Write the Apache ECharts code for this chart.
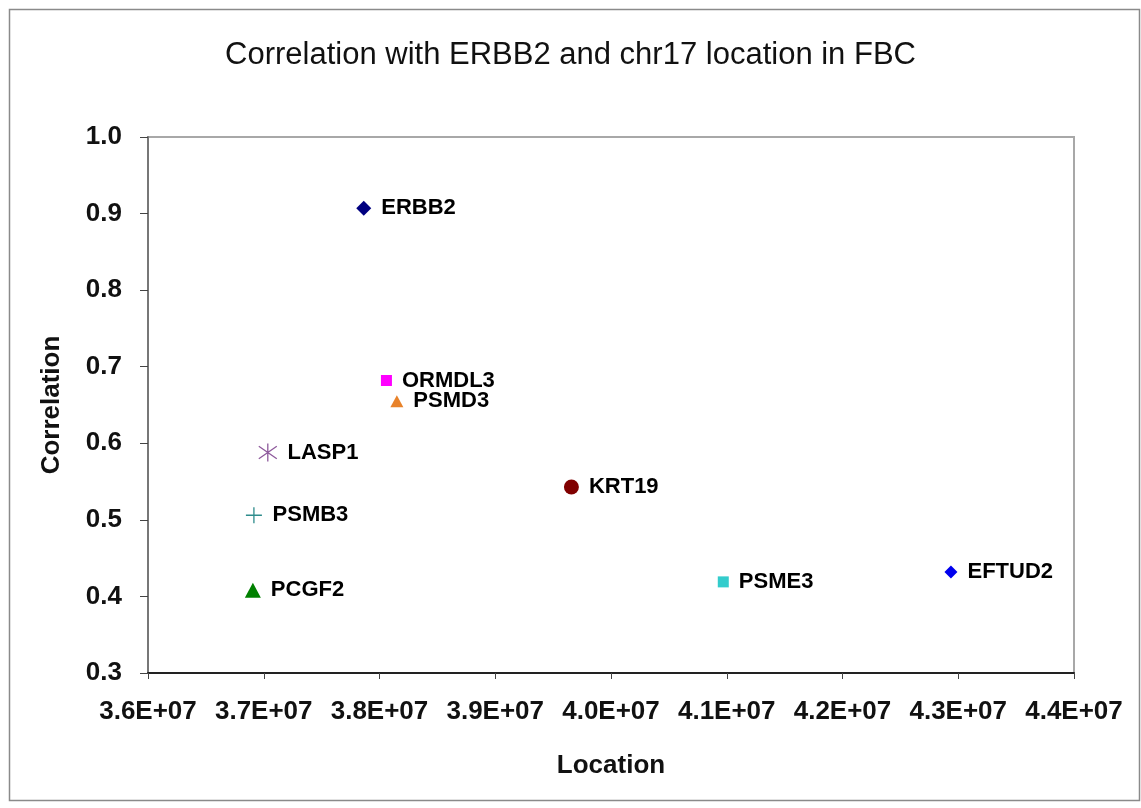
<!DOCTYPE html>
<html>
<head>
<meta charset="utf-8">
<script src="https://cdn.jsdelivr.net/npm/echarts@6/dist/echarts.min.js"></script>
<style>
html,body{margin:0;padding:0;background:#fff;}
#chart{width:1141px;height:808px;}
</style>
</head>
<body>
<div id="chart"></div>
<script>
// Data
const genes = ['ERBB2','ORMDL3','PSMD3','LASP1','PSMB3','PCGF2','KRT19','PSME3','EFTUD2'];
const locations = [37864000, 38060000, 38150000, 37035000, 36915000, 36906000, 39658000, 40970000, 42937000];
const correlations = [0.907, 0.682, 0.655, 0.588, 0.506, 0.408, 0.543, 0.419, 0.432];
const xTicks = ['3.6E+07','3.7E+07','3.8E+07','3.9E+07','4.0E+07','4.1E+07','4.2E+07','4.3E+07','4.4E+07'];
const yTicks = ['0.3','0.4','0.5','0.6','0.7','0.8','0.9','1.0'];

// Styles (per gene)
const ASTERISK = 'path://M10,0 L10,20 M2.5,3 L17.5,17 M17.5,3 L2.5,17';
const PLUS = 'path://M0,10 L20,10 M10,0 L10,20';
const styles = [
  {symbol:'diamond', size:[15,15], color:'#000080'},
  {symbol:'rect', size:[11,11], color:'#FF00FF'},
  {symbol:'triangle', size:[13,12], color:'#E8822A'},
  {symbol:ASTERISK, size:[18,18], stroke:'#8E5A9C'},
  {symbol:PLUS, size:[16,16], stroke:'#2E8C8C'},
  {symbol:'triangle', size:[16,15], color:'#008000'},
  {symbol:'circle', size:[15,15], color:'#800000'},
  {symbol:'rect', size:[11,11], color:'#33CCCC'},
  {symbol:'diamond', size:[13,13], color:'#0000EE'}
];

const FONT = 'Liberation Sans';

const series = genes.map((g, i) => {
  const s = styles[i];
  return {
    type: 'scatter',
    name: g,
    symbol: s.symbol,
    symbolSize: s.size,
    itemStyle: s.stroke
      ? {color: 'rgba(0,0,0,0)', borderColor: s.stroke, borderWidth: 1.3, opacity: 1}
      : {color: s.color, opacity: 1},
    label: {
      show: true,
      position: 'right',
      distance: 10,
      formatter: g,
      fontFamily: FONT,
      fontWeight: 'bold',
      fontSize: 22,
      color: '#000'
    },
    emphasis: {disabled: true},
    data: [[locations[i], correlations[i]]]
  };
});

const chart = echarts.init(document.getElementById('chart'), null, {renderer: 'canvas'});
chart.setOption({
  animation: false,
  backgroundColor: '#fff',
  title: {
    text: 'Correlation with ERBB2 and chr17 location in FBC',
    left: 'center',
    top: 35,
    textStyle: {fontFamily: FONT, fontWeight: 'normal', fontSize: 31, color: '#111'}
  },
  graphic: [{
    type: 'rect',
    shape: {x: 9.5, y: 9.5, width: 1130, height: 791},
    style: {fill: 'none', stroke: '#8a8a8a', lineWidth: 1.5},
    silent: true
  }],
  grid: {
    left: 148, right: 67, top: 137, bottom: 135,
    show: true, borderColor: '#a8a8a8', borderWidth: 2, backgroundColor: '#fff'
  },
  xAxis: {
    type: 'value',
    min: 36000000, max: 44000000, interval: 1000000,
    name: 'Location',
    nameLocation: 'middle',
    nameGap: 80,
    nameTextStyle: {fontFamily: FONT, fontWeight: 'bold', fontSize: 26, color: '#111'},
    axisLine: {show: true, lineStyle: {color: '#222', width: 2}},
    axisTick: {show: true, length: 6, inside: false, lineStyle: {color: '#444', width: 1}},
    splitLine: {show: false},
    axisLabel: {
      margin: 26,
      fontFamily: FONT, fontWeight: 'bold', fontSize: 26, color: '#111',
      formatter: (v) => xTicks[Math.round((v - 36000000) / 1000000)]
    }
  },
  yAxis: {
    type: 'value',
    min: 0.3, max: 1.0, interval: 0.1,
    name: 'Correlation',
    nameLocation: 'middle',
    nameGap: 83,
    nameRotate: 90,
    nameTextStyle: {fontFamily: FONT, fontWeight: 'bold', fontSize: 26, color: '#111'},
    axisLine: {show: true, lineStyle: {color: '#777', width: 2}},
    axisTick: {show: true, length: 8, inside: false, lineStyle: {color: '#444', width: 1}},
    splitLine: {show: false},
    axisLabel: {
      margin: 26,
      fontFamily: FONT, fontWeight: 'bold', fontSize: 26, color: '#111',
      formatter: (v) => yTicks[Math.round((v - 0.3) * 10)]
    }
  },
  series: series
});
</script>
</body>
</html>
